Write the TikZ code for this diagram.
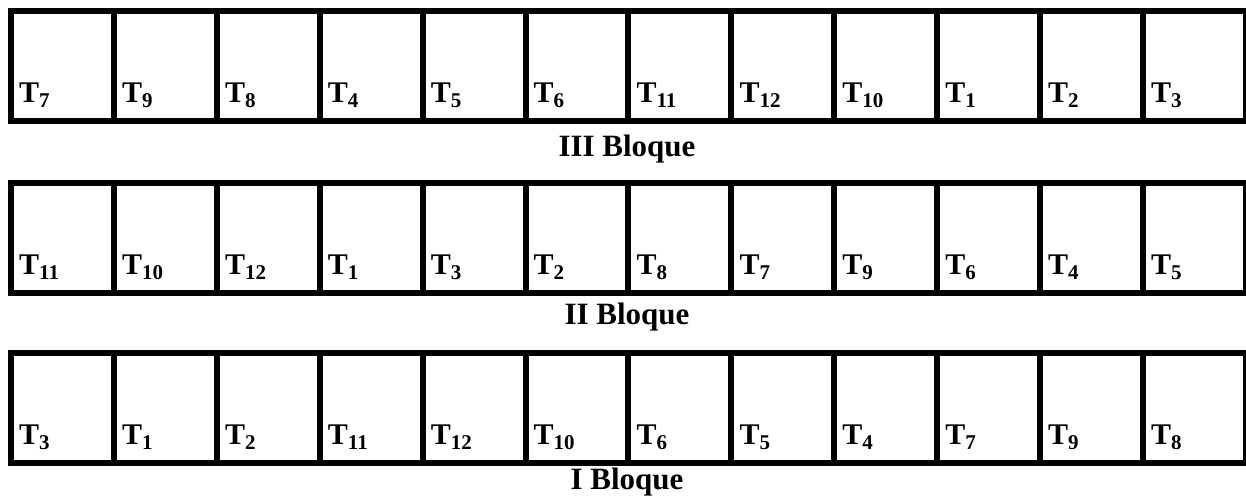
\documentclass[tikz,border=0pt]{standalone}
\usepackage{fontspec}
\setmainfont{Liberation Serif}
\usetikzlibrary{calc}
\begin{document}
\begin{tikzpicture}[x=1pt,y=-1pt,
  cell/.style={draw=black,line width=6pt,minimum width=102.9pt,minimum height=110pt,inner sep=0pt,anchor=north west},
  tlab/.style={anchor=base west,inner sep=0pt,font=\fontsize{30}{30}\selectfont\bfseries},
  blab/.style={anchor=base,inner sep=0pt,font=\fontsize{31}{31}\selectfont\bfseries}]
\useasboundingbox[fill=white] (0,0) rectangle (1246,496);
\foreach \row/\ytop/\list in {
  a/8/{7,9,8,4,5,6,11,12,10,1,2,3},
  b/180/{11,10,12,1,3,2,8,7,9,6,4,5},
  c/350/{3,1,2,11,12,10,6,5,4,7,9,8}}{
  \foreach \t [count=\i] in \list {
    \node[cell] (\row\i) at ({8+(\i-1)*102.9},\ytop) {};
    \node[tlab] (\row l\i) at ($(\row\i.south west)+(11,-22)$) {T\textsubscript{\t}};
  }
}
\node[blab] (b3) at (627,156) {III Bloque};
\node[blab] (b2) at (627,324) {II Bloque};
\node[blab] (b1) at (627,489) {I Bloque};
\end{tikzpicture}
\end{document}
